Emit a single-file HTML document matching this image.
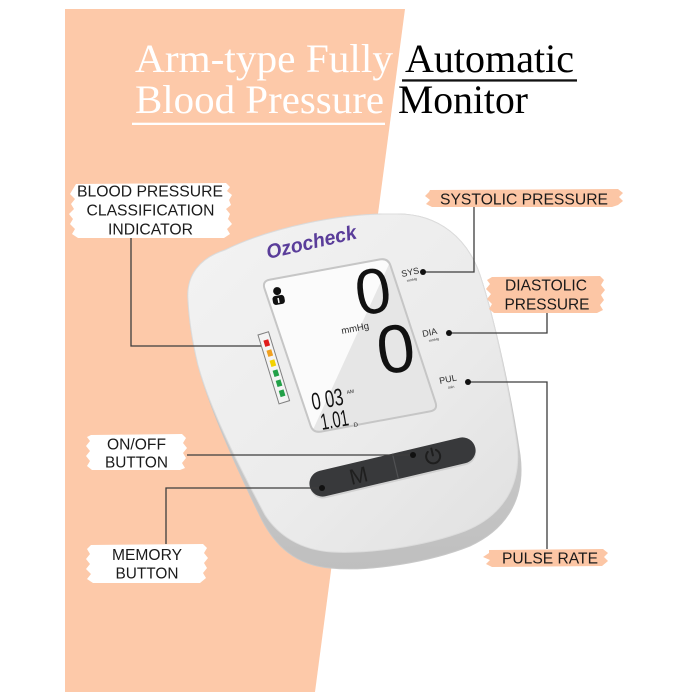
<!DOCTYPE html>
<html>
<head>
<meta charset="utf-8">
<style>
  html,body{margin:0;padding:0;background:#fff;}
  svg{display:block;}
  .lbl{font-family:"Liberation Sans",Arial,sans-serif;font-size:15.5px;fill:#1a1a1a;}
  .ttl{font-family:"Liberation Serif","Times New Roman",serif;font-size:40px;}
  .sm{font-family:"Liberation Sans",Arial,sans-serif;fill:#2a2a2a;}
</style>
</head>
<body>
<svg width="690" height="700" viewBox="0 0 690 700" xmlns="http://www.w3.org/2000/svg">
  <defs>
    <linearGradient id="face" x1="0" y1="0" x2="1" y2="1">
      <stop offset="0" stop-color="#f3f3f3"/>
      <stop offset="0.6" stop-color="#ebebeb"/>
      <stop offset="1" stop-color="#e0e0e0"/>
    </linearGradient>
    <linearGradient id="rim" x1="0" y1="0" x2="0" y2="1">
      <stop offset="0" stop-color="#d9d9d9"/>
      <stop offset="1" stop-color="#bfbfbf"/>
    </linearGradient>
    <clipPath id="scr">
      <path d="M270,279.6 L380,259.4 Q388,258 390.5,265.6 L435.5,402.4 Q438,410 430,411.4 L321,431.6 Q313,433 310.5,425.4 L264.5,288.6 Q262,281 270,279.6 Z"/>
    </clipPath>
  </defs>

  <!-- peach background -->
  <polygon points="65,9 405,9 315,692 65,692" fill="#fdc9a9"/>

  <!-- title -->
  <text class="ttl" x="135" y="72" fill="#ffffff" textLength="258" lengthAdjust="spacingAndGlyphs">Arm-type Fully</text>
  <text class="ttl" x="405" y="72" fill="#000000" textLength="169" lengthAdjust="spacingAndGlyphs">Automatic</text>
  <rect x="402" y="79.3" width="175" height="2.3" fill="#111"/>
  <text class="ttl" x="135" y="113" fill="#ffffff" textLength="249" lengthAdjust="spacingAndGlyphs">Blood Pressure</text>
  <text class="ttl" x="398" y="113" fill="#000000" textLength="130" lengthAdjust="spacingAndGlyphs">Monitor</text>
  <rect x="132" y="122.7" width="253" height="2.3" fill="#ffffff"/>

  <!-- device body -->
  <path d="M188,300 C186,275 200,258 225,250 C270,228 340,213 395,214 C440,213 468,240 480,275 C495,320 512,400 520,455 C526,500 505,530 470,546 C430,562 370,572 330,568 C295,565 275,545 262,520 C240,475 210,410 198,365 C192,340 189,320 188,300 Z" fill="url(#rim)" stroke="#c8c8c8" stroke-width="1"/>
  <path d="M188,300 C186,275 200,258 225,250 C270,228 340,213 395,214 C440,213 468,240 480,275 C495,320 510,395 517,445 C522,488 500,517 465,531 C425,546 370,554 332,552 C300,550 278,535 265,515 C242,472 210,410 198,365 C192,340 189,320 188,300 Z" fill="url(#face)" stroke="#dcdcdc" stroke-width="1"/>

  <!-- brand -->
  <text x="268" y="259" transform="rotate(-13 268 259)" font-family="Liberation Sans,Arial,sans-serif" font-size="20" font-weight="bold" font-style="italic" fill="#5a3d9a" textLength="92" lengthAdjust="spacingAndGlyphs">Ozocheck</text>

  <!-- screen -->
  <g clip-path="url(#scr)">
    <rect x="250" y="250" width="200" height="200" fill="#fbfbfb"/>
    <polygon points="395.5,250 460,250 460,445 306,445" fill="#e6e6e6"/>
  </g>
  <path d="M270,279.6 L380,259.4 Q388,258 390.5,265.6 L435.5,402.4 Q438,410 430,411.4 L321,431.6 Q313,433 310.5,425.4 L264.5,288.6 Q262,281 270,279.6 Z" fill="none" stroke="#c6c6c6" stroke-width="2"/>

  <!-- person icon -->
  <g transform="rotate(-10 278 296)">
    <circle cx="278" cy="291" r="4" fill="#111"/>
    <rect x="272" y="295.5" width="12" height="9" rx="3" fill="#111"/>
    <rect x="277" y="298" width="1.5" height="5" fill="#fbfbfb"/>
  </g>

  <!-- big digits -->
  <text x="376" y="313" transform="rotate(-8 376 313)" text-anchor="middle" font-family="Liberation Sans,Arial,sans-serif" font-size="64" fill="#111">0</text>
  <text x="399" y="372" transform="rotate(-8 399 372)" text-anchor="middle" font-family="Liberation Sans,Arial,sans-serif" font-size="68" fill="#111">0</text>
  <text class="sm" x="342" y="334" transform="rotate(-11 342 334)" font-size="9.5" textLength="28" lengthAdjust="spacingAndGlyphs">mmHg</text>

  <!-- small digits -->
  <text x="313" y="410" transform="rotate(-10 313 410)" font-family="Liberation Sans,Arial,sans-serif" font-size="24" fill="#111" textLength="32" lengthAdjust="spacingAndGlyphs">0 03</text>
  <text class="sm" x="347" y="394" transform="rotate(-10 347 394)" font-size="5">AM</text>
  <text x="322" y="430" transform="rotate(-10 322 430)" font-family="Liberation Sans,Arial,sans-serif" font-size="23" fill="#111" textLength="28" lengthAdjust="spacingAndGlyphs">1.01</text>
  <text class="sm" x="354" y="427" transform="rotate(-10 354 427)" font-size="6">D</text>

  <!-- indicator bar -->
  <g transform="translate(258,335) rotate(-17)">
    <rect x="0" y="0" width="11" height="72" fill="#f4f4f4" stroke="#808080" stroke-width="1"/>
    <rect x="3.5" y="7" width="5" height="6.5" fill="#e01b1b"/>
    <rect x="3.5" y="17.5" width="5" height="6.5" fill="#f0a020"/>
    <rect x="3.5" y="28" width="5" height="6.5" fill="#f2d200"/>
    <rect x="3.5" y="38.5" width="5" height="6.5" fill="#22a048"/>
    <rect x="3.5" y="49" width="5" height="6.5" fill="#22a048"/>
    <rect x="3.5" y="59.5" width="5" height="6.5" fill="#22a048"/>
  </g>

  <!-- side labels on device -->
  <text class="sm" x="402" y="277" transform="rotate(-12 402 277)" font-size="9">SYS</text>
  <text class="sm" x="407" y="282" transform="rotate(-12 407 282)" font-size="3.5">mmHg</text>
  <text class="sm" x="423" y="337" transform="rotate(-12 423 337)" font-size="9">DIA</text>
  <text class="sm" x="429" y="342" transform="rotate(-12 429 342)" font-size="3.5">mmHg</text>
  <text class="sm" x="440" y="384" transform="rotate(-12 440 384)" font-size="9">PUL</text>
  <text class="sm" x="448" y="389" transform="rotate(-12 448 389)" font-size="3.5">/min</text>

  <!-- buttons -->
  <g transform="translate(392.5,467) rotate(-13.3)">
    <rect x="-85" y="-11" width="170" height="26" rx="13" fill="#b5b5b5" opacity="0.45"/>
    <rect x="-85" y="-13" width="170" height="26" rx="13" fill="#38393b"/>
    <line x1="3" y1="-13" x2="3" y2="13" stroke="#505153" stroke-width="1.2"/>
    <text x="-35" y="8" text-anchor="middle" font-family="Liberation Sans,Arial,sans-serif" font-size="22" fill="#1f1f1f">M</text>
    <g transform="translate(42,-1)" fill="none" stroke="#1e1e1e" stroke-width="2" stroke-linecap="round">
      <path d="M-4.2,-5.6 A7 7 0 1 0 4.2,-5.6"/>
      <line x1="0" y1="-8" x2="0" y2="-1"/>
    </g>
  </g>

  <!-- label backgrounds -->
  <path d="M76,184 L226,183 L230,187 L227,191 L232,195 L229,200 L231,205 L226,209 L230,214 L228,219 L232,224 L227,229 L230,234 L224,238 L78,238 L72,234 L75,229 L70,224 L73,219 L69,214 L74,209 L71,204 L75,199 L70,194 L73,189 Z" fill="#ffffff"/>
  <path d="M430,190 L618,189 L623,193 L619,197 L623,201 L618,205 L612,207 L432,207 L426,204 L430,200 L425,196 L429,192 Z" fill="#fcc6a5"/>
  <path d="M492,277 L600,276 L604,280 L601,285 L605,290 L601,295 L604,300 L600,305 L603,310 L597,313 L494,313 L489,309 L492,304 L487,299 L491,294 L486,289 L490,284 L487,280 Z" fill="#fcc6a5"/>
  <path d="M489,550 L603,549 L608,553 L604,557 L608,561 L602,566 L492,567 L486,564 L490,560 L483,557 L489,553 Z" fill="#fcc6a5"/>
  <path d="M91,435 L182,434 L186,438 L183,443 L187,448 L183,453 L186,458 L182,463 L185,468 L180,470 L92,470 L87,466 L90,461 L86,456 L90,451 L86,446 L90,441 L87,437 Z" fill="#ffffff"/>
  <path d="M91,545 L203,544 L207,548 L204,553 L208,558 L204,563 L207,568 L203,573 L206,578 L200,583 L93,583 L87,579 L91,574 L86,569 L90,564 L86,559 L90,554 L87,549 Z" fill="#ffffff"/>

  <!-- connectors -->
  <g fill="none" stroke="#3d3d3d" stroke-width="1.3">
    <polyline points="131,238 131,346 261,346"/>
    <polyline points="474,207 474,272 423,272"/>
    <polyline points="547,313 547,333 449,333"/>
    <polyline points="468,382 547,382 547,549"/>
    <polyline points="187,455 413,455"/>
    <polyline points="166,544 166,488 322,488"/>
  </g>
  <g fill="#111">
    <circle cx="423" cy="272" r="3"/>
    <circle cx="449" cy="333" r="3"/>
    <circle cx="468" cy="382" r="3"/>
    <circle cx="413" cy="455" r="3"/>
    <circle cx="322" cy="488" r="3"/>
  </g>

  <!-- label texts -->
  <text class="lbl" x="150" y="196.7" text-anchor="middle" textLength="146" lengthAdjust="spacingAndGlyphs">BLOOD PRESSURE</text>
  <text class="lbl" x="150.5" y="215.7" text-anchor="middle" textLength="128" lengthAdjust="spacingAndGlyphs">CLASSIFICATION</text>
  <text class="lbl" x="150.5" y="234.3" text-anchor="middle" textLength="85" lengthAdjust="spacingAndGlyphs">INDICATOR</text>

  <text class="lbl" x="524" y="204.3" text-anchor="middle" textLength="168" lengthAdjust="spacingAndGlyphs">SYSTOLIC PRESSURE</text>

  <text class="lbl" x="546" y="290.7" text-anchor="middle" textLength="82" lengthAdjust="spacingAndGlyphs">DIASTOLIC</text>
  <text class="lbl" x="547" y="309.3" text-anchor="middle" textLength="85" lengthAdjust="spacingAndGlyphs">PRESSURE</text>

  <text class="lbl" x="550" y="563.3" text-anchor="middle" textLength="96" lengthAdjust="spacingAndGlyphs">PULSE RATE</text>

  <text class="lbl" x="136.5" y="449.3" text-anchor="middle" textLength="59" lengthAdjust="spacingAndGlyphs">ON/OFF</text>
  <text class="lbl" x="136.5" y="467.7" text-anchor="middle" textLength="63" lengthAdjust="spacingAndGlyphs">BUTTON</text>

  <text class="lbl" x="147" y="560" text-anchor="middle" textLength="70" lengthAdjust="spacingAndGlyphs">MEMORY</text>
  <text class="lbl" x="147" y="578.3" text-anchor="middle" textLength="63" lengthAdjust="spacingAndGlyphs">BUTTON</text>
</svg>
</body>
</html>
